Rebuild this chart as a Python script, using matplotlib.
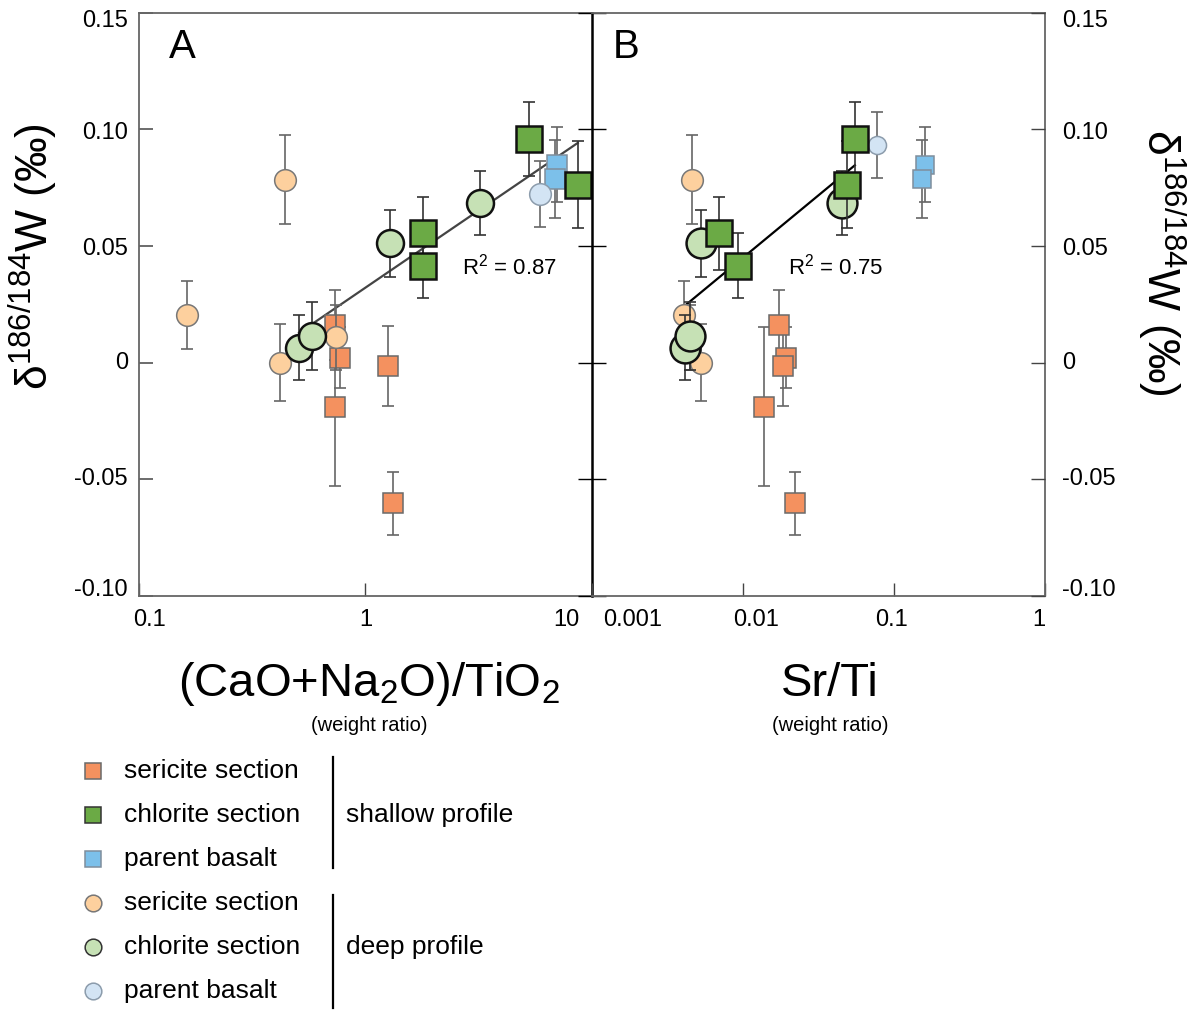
import numpy as np
import matplotlib
matplotlib.use('Agg')
import matplotlib.pyplot as plt
import matplotlib.transforms as mtransforms

plt.rcParams['font.family'] = ['Liberation Sans', 'DejaVu Sans']
plt.rcParams['mathtext.default'] = 'regular'

# ---------------- data ----------------
# Panel A: x = (CaO+Na2O)/TiO2 ; Panel B: x = Sr/Ti ; y = delta186/184W (permil)
sh_ser_xA = [0.737, 0.773, 1.263, 0.734, 1.324]
sh_ser_xB = [0.0172, 0.0192, 0.0184, 0.01387, 0.0222]
sh_ser_y = [0.0162, 0.0022, -0.0014, -0.0188, -0.0602]
sh_ser_e = [0.015, 0.013, 0.017, 0.034, 0.0135]

sh_chl_xA = [1.796, 1.796, 5.31, 8.68]
sh_chl_xB = [0.00698, 0.00927, 0.055, 0.0491]
sh_chl_y = [0.0555, 0.0416, 0.0958, 0.0762]
sh_chl_e = [0.0157, 0.014, 0.016, 0.0186]

sh_bas_xA = [7.04, 6.85]
sh_bas_xB = [0.1596, 0.154]
sh_bas_y = [0.0848, 0.0787]
sh_bas_e = [0.016, 0.0166]

dp_ser_xA = [0.44, 0.163, 0.418, 0.739]
dp_ser_xB = [0.00459, 0.00406, 0.00525, 0.00444]
dp_ser_y = [0.0784, 0.0205, 0.0, 0.0109]
dp_ser_e = [0.019, 0.0147, 0.0165, 0.014]

dp_chl_xA = [0.509, 0.583, 1.29, 3.22]
dp_chl_xB = [0.00411, 0.00444, 0.00525, 0.0449]
dp_chl_y = [0.0065, 0.0115, 0.0512, 0.0684]
dp_chl_e = [0.014, 0.0145, 0.0143, 0.0136]

dp_bas_xA = [5.94]
dp_bas_yA = [0.0723]
dp_bas_xB = [0.0771]
dp_bas_yB = [0.0934]
dp_bas_e = [0.0142]

yticks = [-0.10, -0.05, 0, 0.05, 0.10, 0.15]
ytick_labels = ['-0.10', '-0.05', '0', '0.05', '0.10', '0.15']
xticksA = [0.1, 1, 10]
xtick_labelsA = ['0.1', '1', '10']
xticksB = [0.001, 0.01, 0.1, 1]
xtick_labelsB = ['0.001', '0.01', '0.1', '1']

legend_labels = ['sericite section', 'chlorite section', 'parent basalt']

# ---------------- styles ----------------
C_SER_SQ, E_SER_SQ = '#F4915F', '#6a6a6a'
C_CHL_SQ, E_CHL_SQ = '#6BAA45', '#111111'
C_BAS_SQ, E_BAS_SQ = '#7CC0EA', '#7f8e9c'
C_SER_CI, E_SER_CI = '#FDD09E', '#777777'
C_CHL_CI, E_CHL_CI = '#C6E1B5', '#111111'
C_BAS_CI, E_BAS_CI = '#D3E4F4', '#8c9cac'

W, H = 1187, 1010
fig = plt.figure(figsize=(W / 100, H / 100), dpi=100)

axA = fig.add_axes([139 / W, 1 - 596 / H, (591.7 - 139) / W, (596 - 12.7) / H])
axB = fig.add_axes([591.7 / W, 1 - 596 / H, (1045.3 - 591.7) / W, (596 - 12.7) / H])
axB.set_facecolor('none')
axB2 = axB.twinx()


def draw(ax, x, y, e, marker, ms, fc, ec, mew, ecol, z):
    ax.errorbar(x, y, yerr=e, fmt='none', ecolor=ecol, elinewidth=1.2,
                capsize=4.3, capthick=1.2, zorder=z)
    ax.plot(x, y, ls='none', marker=marker, ms=ms, mfc=fc, mec=ec, mew=mew,
            zorder=z + 0.5)


def regression(ax, xs, ys, color):
    lx = np.log10(np.asarray(xs))
    yy = np.asarray(ys)
    k, b = np.polyfit(lx, yy, 1)
    xx = np.linspace(lx.min(), lx.max(), 50)
    ax.plot(10 ** xx, k * xx + b, color=color, lw=1.6, zorder=2)
    r2 = np.corrcoef(lx, yy)[0, 1] ** 2
    return r2


# Panel A
draw(axA, sh_ser_xA, sh_ser_y, sh_ser_e, 's', 14.8, C_SER_SQ, E_SER_SQ, 1.1, '#666666', 3)
draw(axA, dp_ser_xA, dp_ser_y, dp_ser_e, 'o', 15.6, C_SER_CI, E_SER_CI, 1.1, '#666666', 4)
draw(axA, sh_bas_xA, sh_bas_y, sh_bas_e, 's', 15.0, C_BAS_SQ, E_BAS_SQ, 1.1, '#666666', 5)
draw(axA, dp_bas_xA, dp_bas_yA, dp_bas_e, 'o', 15.6, C_BAS_CI, E_BAS_CI, 1.1, '#666666', 5.2)
draw(axA, dp_chl_xA, dp_chl_y, dp_chl_e, 'o', 19.4, C_CHL_CI, E_CHL_CI, 1.8, '#333333', 6)
draw(axA, sh_chl_xA, sh_chl_y, sh_chl_e, 's', 19.4, C_CHL_SQ, E_CHL_SQ, 1.8, '#333333', 7)
r2A = regression(axA, sh_chl_xA + dp_chl_xA, sh_chl_y + dp_chl_y, '#444444')

# Panel B
draw(axB, sh_ser_xB, sh_ser_y, sh_ser_e, 's', 14.8, C_SER_SQ, E_SER_SQ, 1.1, '#666666', 3)
draw(axB, dp_ser_xB, dp_ser_y, dp_ser_e, 'o', 15.6, C_SER_CI, E_SER_CI, 1.1, '#666666', 4)
draw(axB, sh_bas_xB, sh_bas_y, sh_bas_e, 's', 12.5, C_BAS_SQ, E_BAS_SQ, 1.1, '#666666', 5)
draw(axB, dp_bas_xB, dp_bas_yB, dp_bas_e, 'o', 13.0, C_BAS_CI, E_BAS_CI, 1.1, '#666666', 5.2)
draw(axB, dp_chl_xB, dp_chl_y, dp_chl_e, 'o', 21.5, C_CHL_CI, E_CHL_CI, 1.8, '#333333', 6)
draw(axB, sh_chl_xB, sh_chl_y, sh_chl_e, 's', 19.4, C_CHL_SQ, E_CHL_SQ, 1.8, '#333333', 7)
r2B = regression(axB, sh_chl_xB + dp_chl_xB, sh_chl_y + dp_chl_y, '#000000')

# ---------------- axes formatting ----------------
for ax, xt, xl, lim in [(axA, xticksA, xtick_labelsA, (0.1, 10)),
                        (axB, xticksB, xtick_labelsB, (0.001, 1))]:
    ax.set_xscale('log')
    ax.set_xlim(*lim)
    ax.set_ylim(-0.10, 0.15)
    ax.set_xticks(xt)
    ax.set_xticklabels(xl)
    ax.minorticks_off()
    ax.set_yticks(yticks)
    ax.set_yticklabels(ytick_labels)
    ax.tick_params(axis='x', direction='in', length=9.5, width=1.0, color='#444444',
                   labelsize=17, pad=9, top=False)
    for s in ['top', 'bottom', 'left', 'right']:
        ax.spines[s].set_color('#666666')
        ax.spines[s].set_linewidth(1.3)

axA.tick_params(axis='y', which='major', left=True, right=False, labelleft=True,
                labelright=False, direction='in', length=10, width=1.1,
                color='#444444', labelsize=17, pad=8)
axA.spines['right'].set_color('black')
axA.spines['right'].set_linewidth(1.8)
axA.spines['right'].set_zorder(10)

axB.spines['left'].set_visible(False)
axB.tick_params(axis='y', which='major', left=True, right=False, labelleft=False,
                labelright=False, direction='inout', length=20, width=1.0,
                color='black')

axB2.set_ylim(-0.10, 0.15)
axB2.set_yticks(yticks)
axB2.set_yticklabels(ytick_labels)
axB2.tick_params(axis='y', left=False, right=True, labelleft=False, labelright=True,
                 direction='in', length=10, width=1.0, color='#444444',
                 labelsize=17, pad=12)
for s in axB2.spines.values():
    s.set_visible(False)

# tick label offsets to mimic the reference placement
def offset_labels(labels, offsets):
    for lab, (dx, dy) in zip(labels, offsets):
        tr = mtransforms.ScaledTranslation(dx / 100, dy / 100, fig.dpi_scale_trans)
        lab.set_transform(lab.get_transform() + tr)

offset_labels(axA.get_xticklabels(), [(11, 0), (0, 0), (-25, 0)])
offset_labels(axB.get_xticklabels(), [(41, 0), (13, 0), (-3, 0), (-6, 0)])
yoffs = [(0, 8), (0, 3), (0, 2), (0, 0), (0, -1), (0, -6)]
offset_labels(axA.get_yticklabels(), yoffs)
offset_labels(axB2.get_yticklabels(), yoffs)

# panel letters and R^2
fig.text(182 / W, 1 - 47 / H, 'A', fontsize=29, ha='center', va='center')
fig.text(626 / W, 1 - 47 / H, 'B', fontsize=29, ha='center', va='center')
fig.text(462 / W, 1 - 267 / H, 'R$^2$ = %.2f' % r2A, fontsize=16, ha='left', va='center')
fig.text(788 / W, 1 - 267 / H, 'R$^2$ = %.2f' % r2B, fontsize=16, ha='left', va='center')

# axis labels
fig.text(369 / W, 1 - 696 / H, '(CaO+Na$_2$O)/TiO$_2$', fontsize=34, ha='center', va='baseline')
fig.text(830 / W, 1 - 696 / H, 'Sr/Ti', fontsize=34, ha='center', va='baseline')
fig.text(369 / W, 1 - 731 / H, '(weight ratio)', fontsize=14.5, ha='center', va='baseline')
fig.text(830 / W, 1 - 731 / H, '(weight ratio)', fontsize=14.5, ha='center', va='baseline')
ylab = '\u03b4$^{186/184}$W (\u2030)'
fig.text(33 / W, 1 - 257 / H, ylab, fontsize=32, rotation=90, ha='center', va='center')
fig.text(1162 / W, 1 - 262 / H, ylab, fontsize=32, rotation=270, ha='center', va='center')

# ---------------- legend ----------------
axL = fig.add_axes([0, 0, 1, 1], zorder=-1)
axL.set_xlim(0, W)
axL.set_ylim(H, 0)
axL.axis('off')
rows_sh = [771, 815, 859]
rows_dp = [903, 947, 991]
sq_styles = [(C_SER_SQ, E_SER_SQ), (C_CHL_SQ, '#333333'), (C_BAS_SQ, E_BAS_SQ)]
ci_styles = [(C_SER_CI, E_SER_CI), (C_CHL_CI, '#333333'), (C_BAS_CI, E_BAS_CI)]
for ry, (fc, ec), lab in zip(rows_sh, sq_styles, legend_labels):
    axL.plot([93], [ry], marker='s', ms=12, mfc=fc, mec=ec, mew=1.1, ls='none')
    axL.text(124, ry, lab, fontsize=19, ha='left', va='center')
for ry, (fc, ec), lab in zip(rows_dp, ci_styles, legend_labels):
    axL.plot([93], [ry], marker='o', ms=12, mfc=fc, mec=ec, mew=1.1, ls='none')
    axL.text(124, ry, lab, fontsize=19, ha='left', va='center')
axL.plot([333, 333], [757, 868], color='black', lw=1.6)
axL.plot([333, 333], [895, 1008], color='black', lw=1.6)
axL.text(346, 815, 'shallow profile', fontsize=19, ha='left', va='center')
axL.text(346, 947, 'deep profile', fontsize=19, ha='left', va='center')

fig.savefig('out.png', dpi=100)
